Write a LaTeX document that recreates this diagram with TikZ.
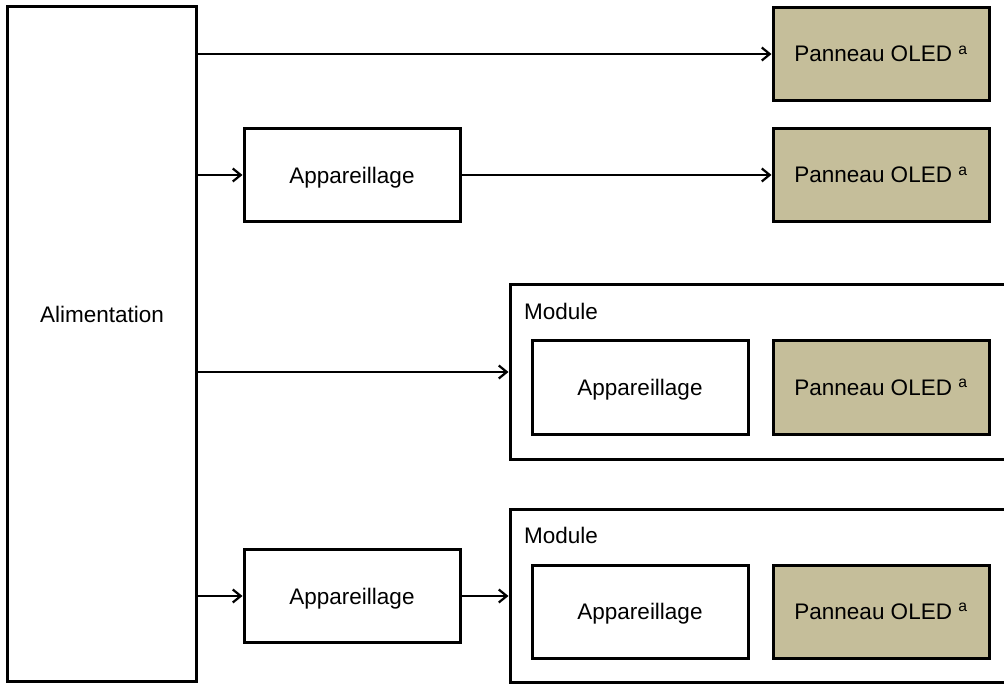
\documentclass[tikz,border=0pt]{standalone}
\usepackage{fontspec}
\setmainfont{Liberation Sans}
\usetikzlibrary{arrows.meta,calc}
\definecolor{oledtan}{RGB}{197,190,154}

\begin{document}
\begin{tikzpicture}[x=1pt,y=-1pt,
    box/.style={draw, line width=3pt, fill=white, minimum width=216pt, minimum height=93pt, inner sep=0pt, text depth=0pt},
    oled/.style={box, fill=oledtan},
    arr/.style={line width=2.2pt, -{Straight Barb[length=8pt,width=13pt]}},
    every node/.append style={font=\fontsize{22.5}{27}\selectfont}]
    \useasboundingbox (0,0) rectangle (1004,684);

    \node[box, minimum width=189pt, minimum height=674pt] (alim) at (101.5,344) {};
    \node[anchor=base] (alimtxt) at (102,323) {Alimentation};

    \node[oled] (oled1) at (881,54) {Panneau OLED \textsuperscript{a}};

    \node[box] (app1) at (352,175) {Appareillage};
    \node[oled] (oled2) at (881,175) {Panneau OLED \textsuperscript{a}};

    \node[box, minimum width=505pt, minimum height=174pt] (mod1) at (762.5,372) {};
    \node[anchor=base west] (mod1txt) at ($(mod1.north west)+(12,36)$) {Module};
    \node[box] (app2) at (640,387.5) {Appareillage};
    \node[oled] (oled3) at (881,387.5) {Panneau OLED \textsuperscript{a}};

    \node[box] (app3) at (352,596) {Appareillage};
    \node[box, minimum width=505pt, minimum height=173pt] (mod2) at (762.5,595.5) {};
    \node[anchor=base west] (mod2txt) at ($(mod2.north west)+(12,36)$) {Module};
    \node[box] (app4) at (640,611.5) {Appareillage};
    \node[oled] (oled4) at (881,611.5) {Panneau OLED \textsuperscript{a}};

    \draw[arr] (alim.east |- oled1.west) -- (oled1.west);
    \draw[arr] (alim.east |- app1.west) -- (app1.west);
    \draw[arr] (app1.east) -- (oled2.west);
    \draw[arr] (alim.east |- mod1.west) -- (mod1.west);
    \draw[arr] (alim.east |- app3.west) -- (app3.west);
    \draw[arr] (app3.east) -- (app3.east -| mod2.west);
\end{tikzpicture}
\end{document}
